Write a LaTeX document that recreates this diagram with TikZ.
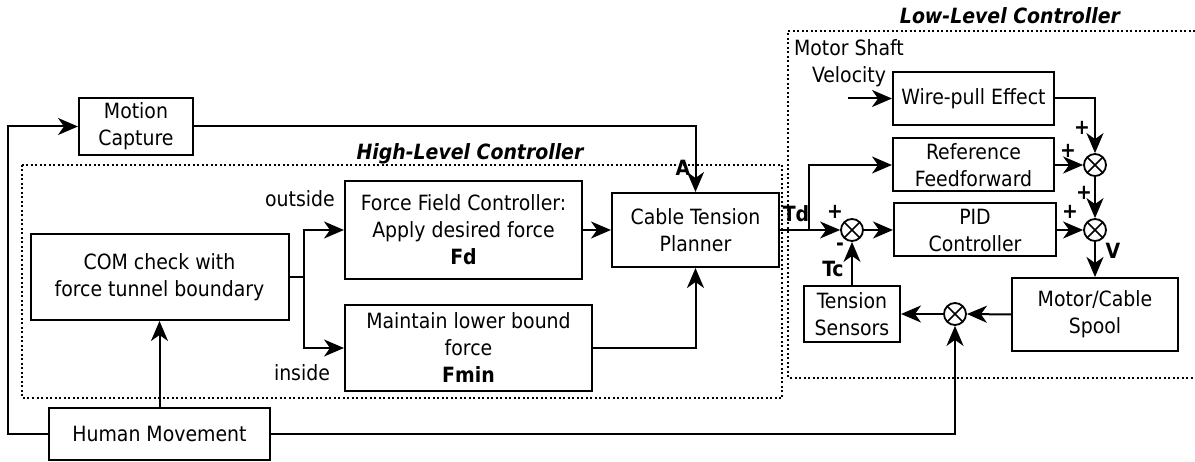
\documentclass[tikz,border=0pt]{standalone}
\usepackage{fontspec}
\setmainfont{DejaVu Sans Condensed}
\usetikzlibrary{arrows.meta}
\tikzset{
  blockbox/.style={rectangle, draw, line width=2pt, align=center, inner sep=2pt, font=\fontsize{21}{27}\selectfont},
  sumnode/.style={circle, draw, line width=1.8pt, minimum size=22pt, inner sep=0pt,
    path picture={\draw[line width=1.5pt] (path picture bounding box.center) +(45:11pt) -- +(225:11pt)
      (path picture bounding box.center) +(135:11pt) -- +(-45:11pt);}},
  sig/.style={line width=2pt, -{Stealth[length=20pt,width=17pt,inset=6pt]}},
  wire/.style={line width=2pt},
  ctrlbox/.style={draw, line width=1.6pt, dash pattern=on 2pt off 2.5pt},
  lbl/.style={inner sep=0pt, font=\fontsize{21}{27}\selectfont},
  blbl/.style={inner sep=0pt, font=\fontsize{21}{27}\selectfont\bfseries},
  ttl/.style={inner sep=0pt, font=\fontsize{21}{27}\selectfont\bfseries\itshape}
}
\begin{document}
\begin{tikzpicture}[x=1pt, y=-1pt]
  \useasboundingbox (0,0) rectangle (1195,462);

  % High-level controller
  \draw[ctrlbox] (22,165) rectangle (782,398);
  \node[ttl] (hlctl) at (470,154) {High-Level Controller};
  \node[blockbox, minimum width=114pt, minimum height=57pt] (mocap) at (136,126.5) {Motion\\Capture};
  \node[blockbox, minimum width=258pt, minimum height=86pt] (comchk) at (159.5,277) {COM check with\\force tunnel boundary};
  \node[blockbox, minimum width=237pt, minimum height=98pt] (ffctrl) at (463.5,230) {Force Field Controller:\\Apply desired force\\\textbf{Fd}};
  \node[blockbox, minimum width=247pt, minimum height=86pt] (lowbnd) at (468.5,348) {Maintain lower bound\\force\\\textbf{Fmin}};
  \node[blockbox, minimum width=167pt, minimum height=74pt] (planner) at (695.5,230) {Cable Tension\\Planner};
  \node[blockbox, minimum width=221pt, minimum height=52pt] (human) at (159.5,434) {Human Movement};
  \node[lbl] (outlbl) at (300,199) {outside};
  \node[lbl] (inlbl) at (302,373) {inside};
  \node[blbl] (albl) at (683,168) {A};

  % Low-level controller
  \draw[ctrlbox] (1195,31) -- (788,31) -- (788,378) -- (1195,378);
  \node[ttl] (llctl) at (1010,16) {Low-Level Controller};
  \node[lbl, align=center] (msv) at (849,63) {Motor Shaft\\Velocity};
  \node[blockbox, minimum width=161pt, minimum height=53pt] (wirepull) at (973.5,98.5) {Wire-pull Effect};
  \node[blockbox, minimum width=161pt, minimum height=53pt] (refff) at (973.5,165) {Reference\\Feedforward};
  \node[blockbox, minimum width=162pt, minimum height=53pt] (pid) at (975,230) {PID\\Controller};
  \node[blockbox, minimum width=96pt, minimum height=56pt] (tension) at (852,314) {Tension\\Sensors};
  \node[blockbox, minimum width=166pt, minimum height=73pt] (motor) at (1095,314.5) {Motor/Cable\\Spool};
  \node[sumnode] (sum0) at (852,230) {};
  \node[sumnode] (sum1) at (1095,165) {};
  \node[sumnode] (sum2) at (1095,230) {};
  \node[sumnode] (sum3) at (955,314) {};
  \node[blbl] (tdlbl) at (796,214) {Td};
  \node[blbl] (tclbl) at (833,269) {Tc};
  \node[blbl] (vlbl) at (1113,251) {V};
  \node[blbl] (p0) at (835,212) {+};
  \node[blbl] (m0) at (840,247) {-};
  \node[blbl] (p1a) at (1082,128) {+};
  \node[blbl] (p1b) at (1068,151) {+};
  \node[blbl] (p2a) at (1084,193) {+};
  \node[blbl] (p2b) at (1070,212) {+};
  \coordinate (velin) at (848,98.5);
  \coordinate (tdsplit) at (809,230);

  % Connections
  \draw[sig] (human.west) -- ++(-40,0) |- (mocap.west);
  \draw[sig] (mocap.east) -| (planner.north);
  \draw[sig] (human.north) -- (comchk.south);
  \draw[wire] (comchk.east) -- ++(14,0) coordinate (split);
  \draw[sig] (split) |- (ffctrl.west);
  \draw[sig] (split) |- (lowbnd.west);
  \draw[sig] (ffctrl.east) -- (planner.west);
  \draw[sig] (lowbnd.east) -| (planner.south);
  \draw[sig] (planner.east) -- (sum0.west);
  \draw[sig] (tdsplit) |- (refff.west);
  \draw[sig] (sum0.east) -- (pid.west);
  \draw[sig] (tension.north) -- (sum0.south);
  \draw[sig] (velin) -- (wirepull.west);
  \draw[sig] (wirepull.east) -| (sum1.north);
  \draw[sig] (refff.east) -- (sum1.west);
  \draw[sig] (sum1.south) -- (sum2.north);
  \draw[sig] (pid.east) -- (sum2.west);
  \draw[sig] (sum2.south) -- (motor.north);
  \draw[sig] (motor.west) -- (sum3.east);
  \draw[sig] (sum3.west) -- (tension.east);
  \draw[sig] (human.east) -| (sum3.south);
\end{tikzpicture}
\end{document}
